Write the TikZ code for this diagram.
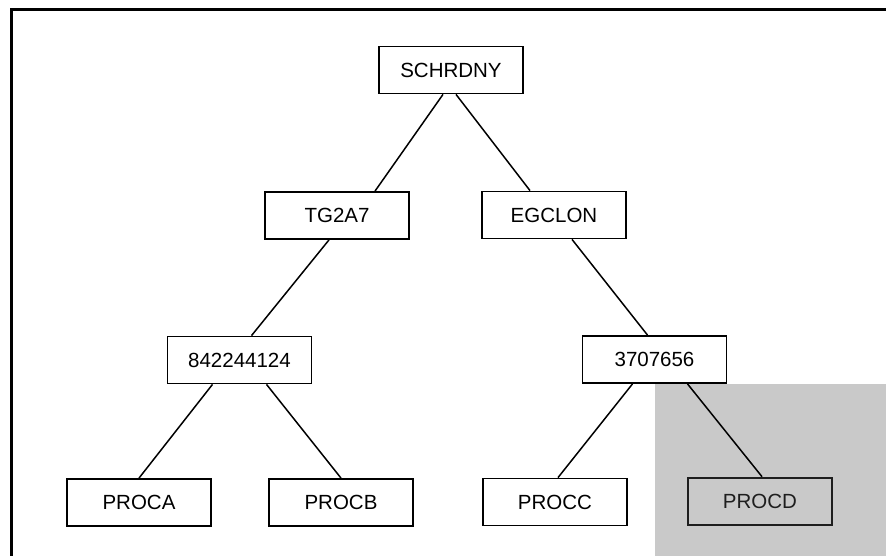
\documentclass[tikz,border=0pt]{standalone}
\usepackage{fontspec}
\setmainfont{Liberation Sans}
\usetikzlibrary{calc}
\definecolor{shadegray}{HTML}{C9C9C9}
\definecolor{darkline}{HTML}{1E1E1E}
\tikzset{
  box/.style={draw=black, line width=1.8pt, fill=white, minimum width=144pt, minimum height=47pt, inner sep=0pt,
    font=\fontsize{20.5}{24}\selectfont},
  shadedbox/.style={box, fill=none, draw=darkline, line width=2.6pt, text=darkline},
  link/.style={draw=black, line width=1.5pt},
}
\begin{document}
\begin{tikzpicture}[x=1pt, y=-1pt]
\useasboundingbox (0,0) rectangle (886,556);
\fill[white] (0,0) rectangle (886,556);
% shaded area
\fill[shadegray] (655,384) rectangle (886,556);
% frame
\draw[line width=3pt] (11,556) -- (11,10) -- (886,10);
% nodes
\node[box] (sch) at (451,70) {SCHRDNY};
\node[box] (tg) at (337,215.5) {TG2A7};
\node[box] (eg) at (554,215) {EGCLON};
\node[box] (n842) at (239.5,360) {842244124};
\node[box] (n370) at (654.5,359.5) {3707656};
\node[box] (pa) at (139,502.5) {PROCA};
\node[box] (pb) at (341,502.5) {PROCB};
\node[box] (pc) at (555,502) {PROCC};
\node[shadedbox] (pd) at (760,501.5) {PROCD};
% connectors
\draw[link] ($(sch.south)+(-8,0)$) -- ($(tg.north)+(38,0)$);
\draw[link] ($(sch.south)+(5,0)$) -- ($(eg.north)+(-24,0)$);
\draw[link] ($(tg.south)+(-8,0)$) -- ($(n842.north)+(12,0)$);
\draw[link] ($(eg.south)+(18,0)$) -- ($(n370.north)+(-7,0)$);
\draw[link] ($(n842.south)+(-27,0)$) -- (pa.north);
\draw[link] ($(n842.south)+(27,0)$) -- (pb.north);
\draw[link] ($(n370.south)+(-22,0)$) -- ($(pc.north)+(3,0)$);
\draw[link] ($(n370.south)+(33,0)$) -- ($(pd.north)+(2,0)$);
\end{tikzpicture}
\end{document}
